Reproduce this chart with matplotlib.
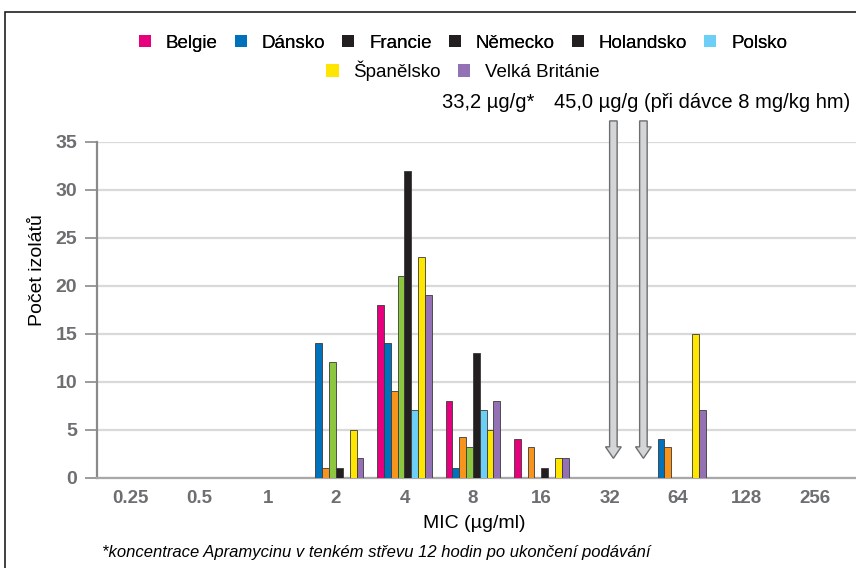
import numpy as np
import matplotlib
matplotlib.use("Agg")
import matplotlib.pyplot as plt
from matplotlib.patches import Patch, Rectangle, FancyArrow

# MIC categories (µg/ml) and isolate counts per country
mic_labels = ["0.25", "0.5", "1", "2", "4", "8", "16", "32", "64", "128", "256"]
countries = ["Belgie", "Dánsko", "Francie", "Německo", "Holandsko",
             "Polsko", "Španělsko", "Velká Británie"]

belgie    = [0, 0, 0, 0, 18, 8, 4, 0, 0, 0, 0]
dansko    = [0, 0, 0, 14, 14, 1, 0, 0, 4, 0, 0]
francie   = [0, 0, 0, 1, 9, 4.2, 3.2, 0, 3.2, 0, 0]
nemecko   = [0, 0, 0, 12, 21, 3.2, 0, 0, 0, 0, 0]
holandsko = [0, 0, 0, 1, 32, 13, 1, 0, 0, 0, 0]
polsko    = [0, 0, 0, 0, 7, 7, 0, 0, 0, 0, 0]
spanelsko = [0, 0, 0, 5, 23, 5, 2, 0, 15, 0, 0]
velka_br  = [0, 0, 0, 2, 19, 8, 2, 0, 7, 0, 0]

series = [belgie, dansko, francie, nemecko, holandsko, polsko, spanelsko, velka_br]

bar_colors = ["#e6007e", "#0072bc", "#f7941d", "#8dc63f",
              "#231f20", "#6dcff6", "#ffe600", "#9470b5"]
legend_colors = ["#e6007e", "#0072bc", "#231f20", "#231f20",
                 "#231f20", "#6dcff6", "#ffe600", "#9470b5"]

# Intestinal apramycin concentrations (µg/g) marked by arrows
conc_values = [33.2, 45.0]
conc_labels = ["33,2 µg/g*", "45,0 µg/g (při dávce 8 mg/kg hm)"]

plt.rcParams["font.family"] = ["Liberation Sans", "DejaVu Sans"]

fig = plt.figure(figsize=(8.56, 5.68), dpi=100)
ax = fig.add_axes([96.5 / 856, 1 - 477.5 / 568, 1 - 96.5 / 856, (477.5 - 142) / 568])

x = np.arange(len(mic_labels))
n = len(series)
width = 0.1
for i, (vals, col) in enumerate(zip(series, bar_colors)):
    vals = np.asarray(vals, dtype=float)
    mask = vals > 0
    offs = (i - (n - 1) / 2) * width
    ax.bar(x[mask] + offs, vals[mask], width=width, color=col,
           edgecolor="#3a3a3a", linewidth=0.6, zorder=3)

# concentration arrows on the log2 MIC scale (0.25 -> position 0)
for v in conc_values:
    pos = np.log2(v / 0.25)
    arr = FancyArrow(pos, 37.2, 0, -35.2, width=0.11, head_width=0.23,
                     head_length=1.2, length_includes_head=True,
                     facecolor="#d4d5d6", edgecolor="#6d6e71", linewidth=1.0,
                     clip_on=False, zorder=4)
    ax.add_patch(arr)

ax.set_xlim(-0.5, (856 - 130) / 68.5)
ax.set_ylim(0, 35)
ax.set_yticks(np.arange(0, 36, 5))
ax.set_xticks(x)
ax.set_xticklabels(mic_labels)
ax.tick_params(axis="x", length=0, pad=9, labelsize=13.5, labelcolor="#6d6e71")
ax.tick_params(axis="y", length=9, width=1.2, color="#8a8a8a", pad=5,
               labelsize=14, labelcolor="#6d6e71")
for lab in ax.get_yticklabels() + ax.get_xticklabels():
    lab.set_fontweight("bold")

ax.grid(axis="y", color="#d9d9d9", linewidth=1.6, zorder=0)
ax.set_axisbelow(True)
for s in ["top", "right"]:
    ax.spines[s].set_visible(False)
ax.spines["left"].set_color("#8a8a8a")
ax.spines["left"].set_linewidth(1.6)
ax.spines["bottom"].set_color("#a8a8a8")
ax.spines["bottom"].set_linewidth(1.6)

fig.text(38 / 856, 1 - 270 / 568, "Počet izolátů", rotation=90,
         ha="center", va="center", fontsize=14)
fig.text(474 / 856, 1 - 524 / 568, "MIC (µg/ml)", ha="center", va="center",
         fontsize=14)
fig.text(102 / 856, 1 - 552 / 568,
         "*koncentrace Apramycinu v tenkém střevu 12 hodin po ukončení podávání",
         ha="left", va="center", fontsize=12, style="italic")

fig.text(442 / 856, 1 - 103 / 568, conc_labels[0], ha="left", va="center",
         fontsize=14.5)
fig.text(850 / 856, 1 - 103 / 568, conc_labels[1], ha="right", va="center",
         fontsize=14.5)

handles = [Patch(facecolor=c, edgecolor="none") for c in legend_colors]
leg1 = fig.legend(handles[:6], countries[:6], loc="center",
                  bbox_to_anchor=(463 / 856, 1 - 43 / 568), ncol=6,
                  frameon=False, fontsize=13.5, handlelength=0.65,
                  handleheight=0.65, handletextpad=0.8, columnspacing=0.9,
                  borderpad=0, borderaxespad=0)
fig.add_artist(leg1)
fig.legend(handles[6:], countries[6:], loc="center",
           bbox_to_anchor=(463 / 856, 1 - 71 / 568), ncol=2,
           frameon=False, fontsize=13.5, handlelength=0.65,
           handleheight=0.65, handletextpad=0.8, columnspacing=0.9,
           borderpad=0, borderaxespad=0)

# outer frame of the figure panel
fig.add_artist(Rectangle((5 / 856, -0.05), 1.2, 1 - 12 / 568 + 0.05,
                         transform=fig.transFigure, fill=False,
                         edgecolor="#231f20", linewidth=1.2))

fig.savefig("out.png", dpi=100)
